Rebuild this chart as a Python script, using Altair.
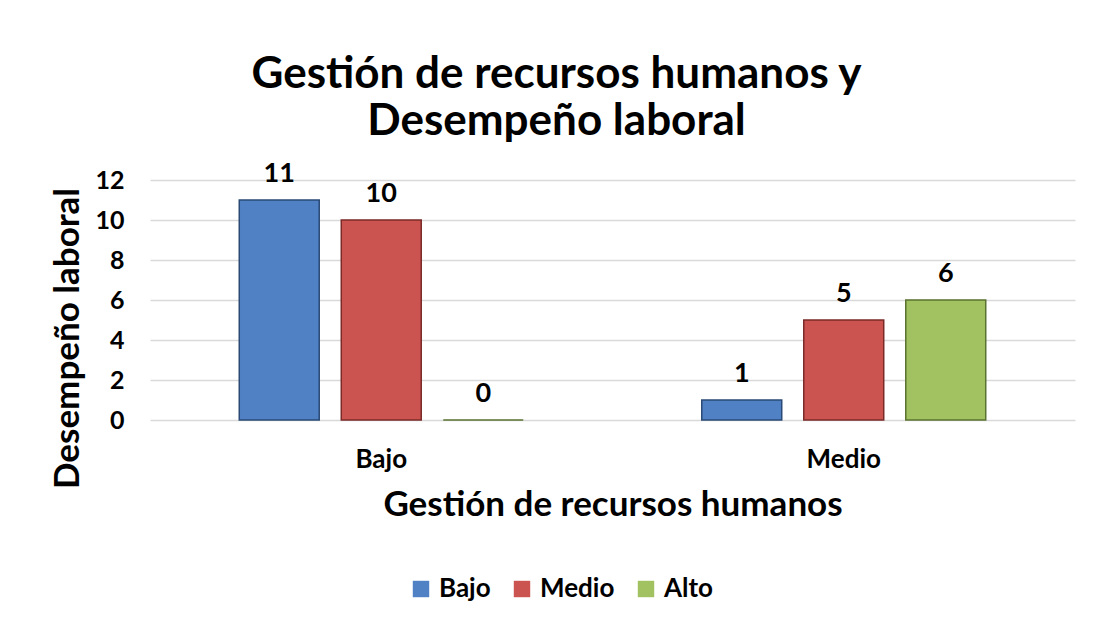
import altair as alt
import pandas as pd

categories = ["Bajo", "Medio"]
series_names = ["Bajo", "Medio", "Alto"]
serie_bajo = [11, 1]
serie_medio = [10, 5]
serie_alto = [0, 6]

fill_colors = ["#4F81C4", "#CC5450", "#A2C160"]
stroke_colors = ["#2A4A75", "#7A2B29", "#5A7330"]

rows = []
for s, vals in zip(series_names, [serie_bajo, serie_medio, serie_alto]):
    for c, v in zip(categories, vals):
        rows.append({"grupo": c, "serie": s, "valor": v})
df = pd.DataFrame(rows)

FONT = "Lato"

base = alt.Chart(df).encode(
    x=alt.X(
        "grupo:N",
        sort=categories,
        scale=alt.Scale(paddingInner=0.386, paddingOuter=0.193),
        axis=alt.Axis(
            title="Gestión de recursos humanos",
            labelAngle=0,
            labelFontSize=26,
            labelFontWeight="bold",
            labelPadding=26,
            ticks=False,
            domain=False,
            titleFontSize=35,
            titleFontWeight="bold",
            titlePadding=15,
        ),
    ),
    xOffset=alt.XOffset(
        "serie:N",
        sort=series_names,
        scale=alt.Scale(paddingInner=0.216, paddingOuter=0),
    ),
    y=alt.Y(
        "valor:Q",
        scale=alt.Scale(domain=[0, 12]),
        axis=alt.Axis(
            title="Desempeño laboral",
            values=[0, 2, 4, 6, 8, 10, 12],
            labelFontSize=25,
            labelFontWeight="bold",
            labelPadding=26,
            ticks=False,
            domain=False,
            gridColor="#D9D9D9",
            gridWidth=1.5,
            titleFontSize=35,
            titleFontWeight="bold",
            titlePadding=9,
            titleY=158,
        ),
    ),
)

bars = base.mark_bar(strokeWidth=1.5).encode(
    color=alt.Color(
        "serie:N",
        sort=series_names,
        scale=alt.Scale(domain=series_names, range=fill_colors),
        legend=alt.Legend(
            title=None,
            orient="none",
            legendX=258,
            legendY=396,
            direction="horizontal",
            symbolType="square",
            symbolSize=270,
            symbolStrokeWidth=0,
            labelFontSize=26,
            labelFontWeight="bold",
            columnPadding=18,
            labelOffset=5,
        ),
    ),
    stroke=alt.Stroke(
        "serie:N",
        sort=series_names,
        scale=alt.Scale(domain=series_names, range=stroke_colors),
        legend=None,
    ),
)

labels = base.mark_text(
    dy=-12, baseline="bottom", fontSize=27, fontWeight="bold", color="black"
).encode(text="valor:Q")

chart = (
    alt.layer(bars, labels)
    .properties(
        width=925,
        height=240,
        autosize=alt.AutoSizeParams(type="none"),
        padding={"left": 142, "top": 172, "right": 10, "bottom": 195},
        title=alt.TitleParams(
            text=["Gestión de recursos humanos y", "Desempeño laboral"],
            fontSize=44,
            fontWeight="bold",
            lineHeight=47,
            anchor="middle",
            dx=-56,
            offset=16,
            color="black",
        ),
    )
    .configure(font=FONT, background="white")
    .configure_view(stroke=None)
    .configure_axis(labelColor="black", titleColor="black", labelFont=FONT, titleFont=FONT)
    .configure_legend(labelColor="black", labelFont=FONT)
    .configure_title(font=FONT)
)

chart.save("out.html", embed_options={"renderer": "svg", "actions": False})
